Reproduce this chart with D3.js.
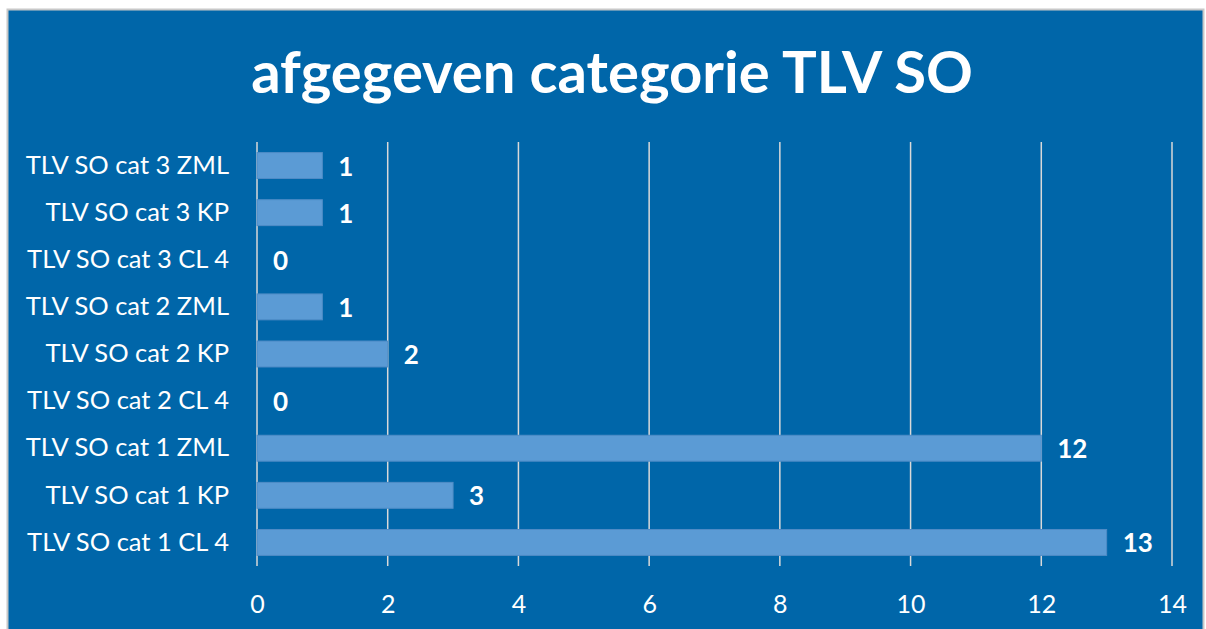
<!DOCTYPE html>
<html>
<head>
<meta charset="utf-8">
<script src="https://cdn.jsdelivr.net/npm/d3@7"></script>
<style>
  body { margin: 0; background: #fff; }
  svg { display: block; }
</style>
</head>
<body>
<svg id="chart" width="1206" height="629"></svg>
<script>
// data
const categories = ["TLV SO cat 3 ZML", "TLV SO cat 3 KP", "TLV SO cat 3 CL 4",
  "TLV SO cat 2 ZML", "TLV SO cat 2 KP", "TLV SO cat 2 CL 4",
  "TLV SO cat 1 ZML", "TLV SO cat 1 KP", "TLV SO cat 1 CL 4"];
const values = [1, 1, 0, 1, 2, 0, 12, 3, 13];
const ticks = [0, 2, 4, 6, 8, 10, 12, 14];
const title = "afgegeven categorie TLV SO";

const font = "Lato, 'Open Sans', sans-serif";
const svg = d3.select("#chart");

// fond
svg.append("rect")
  .attr("x", 7.5).attr("y", 9.5)
  .attr("width", 1196).attr("height", 625)
  .attr("fill", "#0066a9")
  .attr("stroke", "#c8c8c8")
  .attr("stroke-width", 2);

svg.append("text")
  .attr("x", 612).attr("y", 93)
  .attr("text-anchor", "middle")
  .attr("fill", "#fff")
  .attr("font-family", font)
  .attr("font-weight", "bold")
  .attr("font-size", 58)
  .text(title);

const x = d3.scaleLinear().domain([0, 14]).range([257, 1172]);
const y = d3.scaleBand().domain(categories).range([142, 566]).paddingInner(0.45).paddingOuter(0.225);

// grille
svg.append("g").selectAll("line").data(ticks).join("line")
  .attr("x1", d => x(d)).attr("x2", d => x(d))
  .attr("y1", 142).attr("y2", 566)
  .attr("stroke", "#d9d9d9").attr("stroke-width", 1.5);

// axe x
const xAxis = svg.append("g")
  .attr("transform", "translate(0,566)")
  .call(d3.axisBottom(x).tickValues(ticks).tickSize(0).tickPadding(29));
xAxis.select(".domain").remove();
xAxis.selectAll("text")
  .attr("fill", "#fff")
  .attr("font-family", font)
  .attr("font-size", 25);

// axe y
const yAxis = svg.append("g")
  .attr("transform", "translate(257,0)")
  .call(d3.axisLeft(y).tickSize(0).tickPadding(28));
yAxis.select(".domain").remove();
yAxis.selectAll("text")
  .attr("fill", "#fff")
  .attr("font-family", font)
  .attr("font-size", 25.5);

// barres
svg.append("g").selectAll("rect").data(values).join("rect")
  .attr("x", x(0))
  .attr("y", (d, i) => y(categories[i]))
  .attr("width", d => x(d) - x(0))
  .attr("height", y.bandwidth())
  .attr("fill", "#5b9bd5")
  .attr("stroke", "#4f8cc6")
  .attr("stroke-width", 1);

// etiquettes
svg.append("g").selectAll("text").data(values).join("text")
  .attr("x", d => x(d) + 16)
  .attr("y", (d, i) => y(categories[i]) + y.bandwidth() / 2 + 10)
  .attr("fill", "#fff")
  .attr("font-family", font)
  .attr("font-weight", "bold")
  .attr("font-size", 26)
  .text(d => d);
</script>
</body>
</html>
